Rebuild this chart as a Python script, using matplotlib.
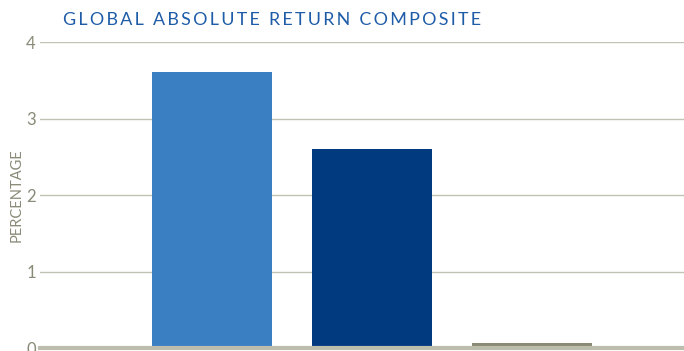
import matplotlib
matplotlib.use("Agg")
import matplotlib.pyplot as plt

# data
categories = ["A", "B", "C"]
values = [3.61, 2.60, 0.07]
colors = ["#3a7fc2", "#023a80", "#8a8a76"]
yticks = [0, 1, 2, 3, 4]
title = "GLOBAL ABSOLUTE RETURN COMPOSITE"
ylabel = "PERCENTAGE"

plt.rcParams['font.family'] = ['Lato', 'DejaVu Sans']


def spaced(s):
    # letter spacing with thin spaces
    return "\u2009".join(s)


fig = plt.figure(figsize=(6.84, 3.51), dpi=100)
ax = fig.add_axes([0.0585, 0.0085, 0.9415, 0.8715])

x = list(range(len(categories)))
ax.bar(x, values, width=0.75, color=colors, zorder=3)

ax.set_ylim(0, 4)
ax.set_xlim(-1.075, 2.95)
ax.set_yticks(yticks)
ax.set_yticklabels([str(t) for t in yticks])
ax.set_xticks([])
ax.grid(axis="y", color="#c2c2b4", linewidth=1.0, zorder=0)
ax.tick_params(axis="y", length=0, pad=3, labelsize=12, labelcolor="#8a8a78")
for s in ["top", "right", "left"]:
    ax.spines[s].set_visible(False)
ax.spines["bottom"].set_color("#bdbdad")
ax.spines["bottom"].set_linewidth(3)
ax.spines["bottom"].set_zorder(4)

# y label placed by hand so it stays inside the figure
fig.text(0.024, 0.445, ylabel, color="#8a8a78", fontsize=10.5,
         rotation=90, ha="center", va="center")
fig.text(0.092, 0.943, spaced(title), color="#1f5ca8", fontsize=12.9,
         ha="left", va="center")

fig.savefig("out.png", dpi=100)
